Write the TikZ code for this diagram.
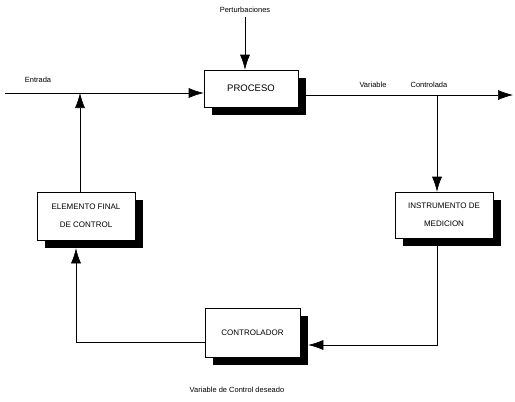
\documentclass[tikz,border=0pt]{standalone}
\usepackage{fontspec}
\setmainfont{Liberation Sans}
\usetikzlibrary{arrows.meta, shadows, positioning, calc}

\begin{document}
\begin{tikzpicture}[x=1pt, y=-1pt,
        bloque/.style={rectangle, draw=black, line width=0.6pt, fill=white, align=center,
                font=\fontsize{8}{18}\selectfont,
                drop shadow={fill=black, opacity=1, shadow xshift=8pt, shadow yshift=-8pt}},
        etiqueta/.style={font=\fontsize{7.5}{9}\selectfont, inner sep=0pt},
        flecha/.style={line width=0.6pt, -{Latex[length=15pt, width=10pt]}}]
        \useasboundingbox (0,0) rectangle (515,402);

        % Blocks
        \foreach \nombre/\x/\y/\w/\h/\texto in {proceso/251/88.5/94/37/{\fontsize{9.5}{11}\selectfont PROCESO}, elemento/86/216/98/48/{ELEMENTO FINAL\\DE CONTROL}, instrumento/444/215/98/46/{INSTRUMENTO DE\\MEDICION}, controlador/252.5/332.5/95/49/{CONTROLADOR}} {
        \node[bloque, minimum width=\w, minimum height=\h] (\nombre) at (\x,\y) {\texto};
        }

        % Labels
        \node[etiqueta] (perturbaciones) at (245,10) {Perturbaciones};
        \node[etiqueta] (entrada) at (38,80) {Entrada};
        \node[etiqueta] (variable) at (373,85) {Variable};
        \node[etiqueta] (controlada) at (429,85) {Controlada};
        \node[etiqueta] (deseado) at (237,390) {Variable de Control deseado};

        % Points on the lines
        \coordinate (inicio) at (5,93);
        \coordinate (suma) at (80,93);
        \coordinate (fin) at (513,95);
        \coordinate (toma) at (437,95);
        \coordinate (salida) at ([xshift=8pt]proceso.east |- fin);
        \coordinate (medida) at ([yshift=-8pt]instrumento.south -| toma);

        % Connectors
        \draw[flecha, shorten <=4pt] (perturbaciones.south) -- (perturbaciones.south |- proceso.north);
        \draw[flecha] (inicio) -- (inicio -| proceso.west);
        \draw[flecha] (salida) -- (fin);
        \draw[flecha] (toma) -- (toma |- instrumento.north);
        \draw[flecha] (medida) |- ([xshift=8pt, yshift=-12.5pt]controlador.east);
        \draw[flecha] ([yshift=-9.5pt]controlador.west) -| ([xshift=-10pt, yshift=-8pt]elemento.south);
        \draw[flecha] (suma |- elemento.north) -- (suma);
\end{tikzpicture}
\end{document}
